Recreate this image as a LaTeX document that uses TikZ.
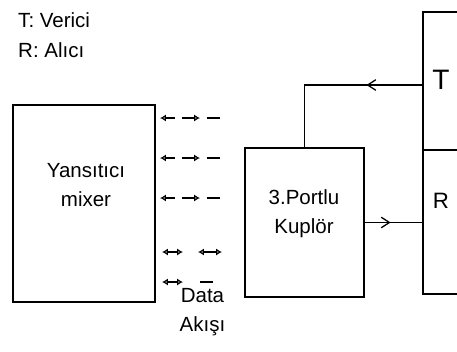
\documentclass[tikz,border=0pt]{standalone}
\usepackage{fontspec}
\setmainfont{Liberation Sans}
\usetikzlibrary{arrows.meta, positioning, calc, decorations.markings}
\tikzset{
  kutu/.style={rectangle, draw=black, line width=1.2pt, inner sep=0pt},
  yazi/.style={font=\fontsize{17.5}{25}\selectfont, inner sep=0pt, align=center},
  hat/.style={draw=black, line width=1.2pt},
  ortaok/.style={postaction={decorate}, decoration={markings,
                 mark=at position #1 with {\arrow{Straight Barb[length=7pt,width=9pt,line width=1.1pt]}}}},
  isaret/.style={draw=black, line width=1.1pt, >={Latex[open,length=5pt,width=6pt]}},
}

\begin{document}
\begin{tikzpicture}[x=0.3mm, y=-0.3mm]
  \useasboundingbox (0,0) rectangle (457,351);
  \clip (0,0) rectangle (457,351);

  % legend
  \node[yazi, anchor=base west] (leg1) at (18,27) {T: Verici};
  \node[yazi, anchor=base west] (leg2) at (18,57) {R: Alıcı};

  % blocks
  \node[kutu, minimum width=4.26cm, minimum height=5.91cm] (Mix) at (84,203.5) {};
  \node[yazi] (MixT) at (86,185) {Yansıtıcı\\mixer};
  \node[kutu, minimum width=3.57cm, minimum height=4.47cm] (Kupl) at (304.5,222.5) {};
  \node[yazi] (KuplT) at (304,214) {3.Portlu\\Kuplör};
  \node[kutu, minimum width=1.92cm, minimum height=4.14cm] (Tbox) at (455,81) {};
  \node[kutu, minimum width=1.92cm, minimum height=4.32cm] (Rbox) at (455,222) {};
  \node[yazi, font=\fontsize{24}{28}\selectfont] (TT) at (441,80) {T};
  \node[yazi, font=\fontsize{19}{25}\selectfont] (RR) at (441,201) {R};
  \node[yazi] (akis) at (202.5,312) {Data\\Akışı};

  % connectors
  \coordinate (tport) at ($(Tbox.west)+(0,4)$);
  \draw[hat, ortaok=0.31] (tport) -| (Kupl.north);
  \draw[hat, ortaok=0.45] (Kupl.east) -- (Kupl.east -| Rbox.west);
  \draw[hat] ($(Kupl.west)+(0,10)$) -- ($(Kupl.west)+(0,10)$ -| Mix.east);

  % data flow marks
  \foreach \y in {118,158,198} {
    \draw[isaret, <-] (160,\y) -- (175,\y);
    \draw[isaret, ->] (182,\y) -- (200,\y);
    \draw[isaret] (207,\y) -- (220,\y);
  }
  \draw[isaret, <->] (162,252) -- (183,252);
  \draw[isaret, <->] (198,252) -- (222,252);
  \draw[isaret, <->] (162,282) -- (183,282);
  \draw[isaret] (200,282) -- (213,282);
\end{tikzpicture}
\end{document}
